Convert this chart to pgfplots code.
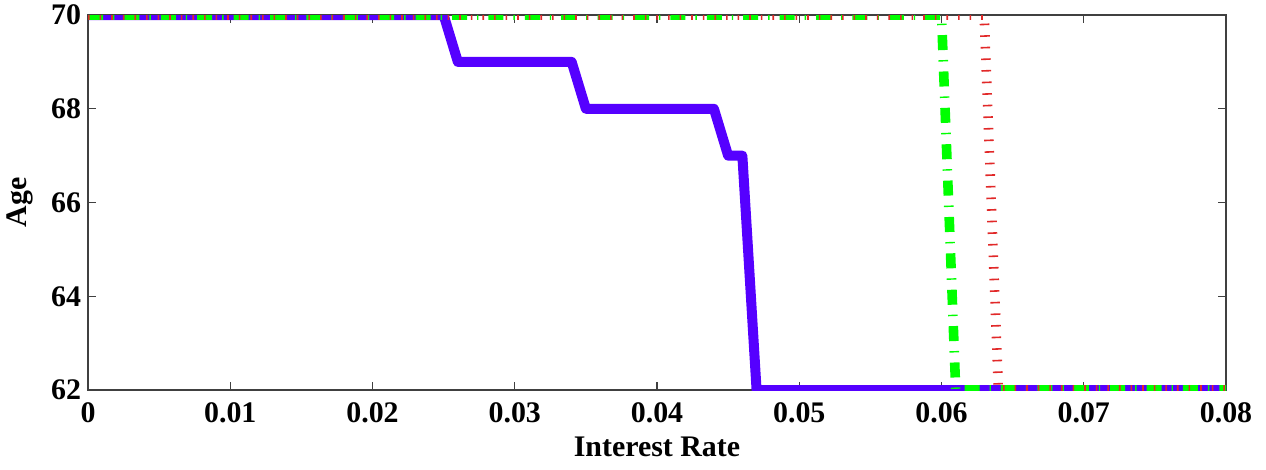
\documentclass[border=0pt]{standalone}
\usepackage{fontspec}
\setmainfont{Liberation Serif}
\usepackage{pgfplots}
\pgfplotsset{compat=1.18}
\definecolor{cblue}{RGB}{85,0,255}
\definecolor{cgreen}{RGB}{0,255,0}
\definecolor{cred}{RGB}{225,40,40}
\begin{document}
\begin{tikzpicture}
\useasboundingbox (-44bp,-40bp) rectangle (589bp,195bp);
\begin{axis}[
  at={(0,0)}, anchor=south west,
  scale only axis, width=569bp, height=187.5bp,
  xmin=0, xmax=0.08, ymin=62, ymax=70,
  xtick={0,0.01,0.02,0.03,0.04,0.05,0.06,0.07,0.08},
  xticklabels={0,0.01,0.02,0.03,0.04,0.05,0.06,0.07,0.08},
  scaled x ticks=false,
  ytick={62,64,66,68,70},
  tick align=inside, tick pos=both,
  major tick length=4bp,
  axis line style={line width=0.6bp, black!75},
  tick style={line width=0.6bp, black!75},
  /pgf/number format/assume math mode=true,
  ticklabel style={font=\fontsize{15}{18}\selectfont\bfseries},
  label style={font=\fontsize{15}{18}\selectfont\bfseries},
  xticklabel style={yshift=-3bp},
  xlabel={Interest Rate},
  ylabel={Age},
  xlabel style={at={(axis description cs:0.5,0)}, anchor=north, yshift=-20bp},
  ylabel style={at={(axis description cs:0,0.5)}, anchor=south, yshift=24bp},
  clip=true,
]
\addplot[cblue, line width=5bp, line join=round] coordinates {
(0,70) (0.025,70) (0.026,69) (0.034,69) (0.035,68) (0.044,68) (0.045,67) (0.046,67) (0.047,62) (0.08,62)};
\addplot[cgreen, line width=4.8bp, line cap=butt, dash pattern=on 7.5bp off 5bp on 0.7bp off 5bp] coordinates {
(0,70) (0.060,70) (0.061,62) (0.08,62)};
\addplot[cred, line width=4.8bp, line cap=butt, dash pattern=on 0.8bp off 5bp] coordinates {
(0,70) (0.063,70) (0.064,62) (0.08,62)};
\end{axis}
\end{tikzpicture}
\end{document}
